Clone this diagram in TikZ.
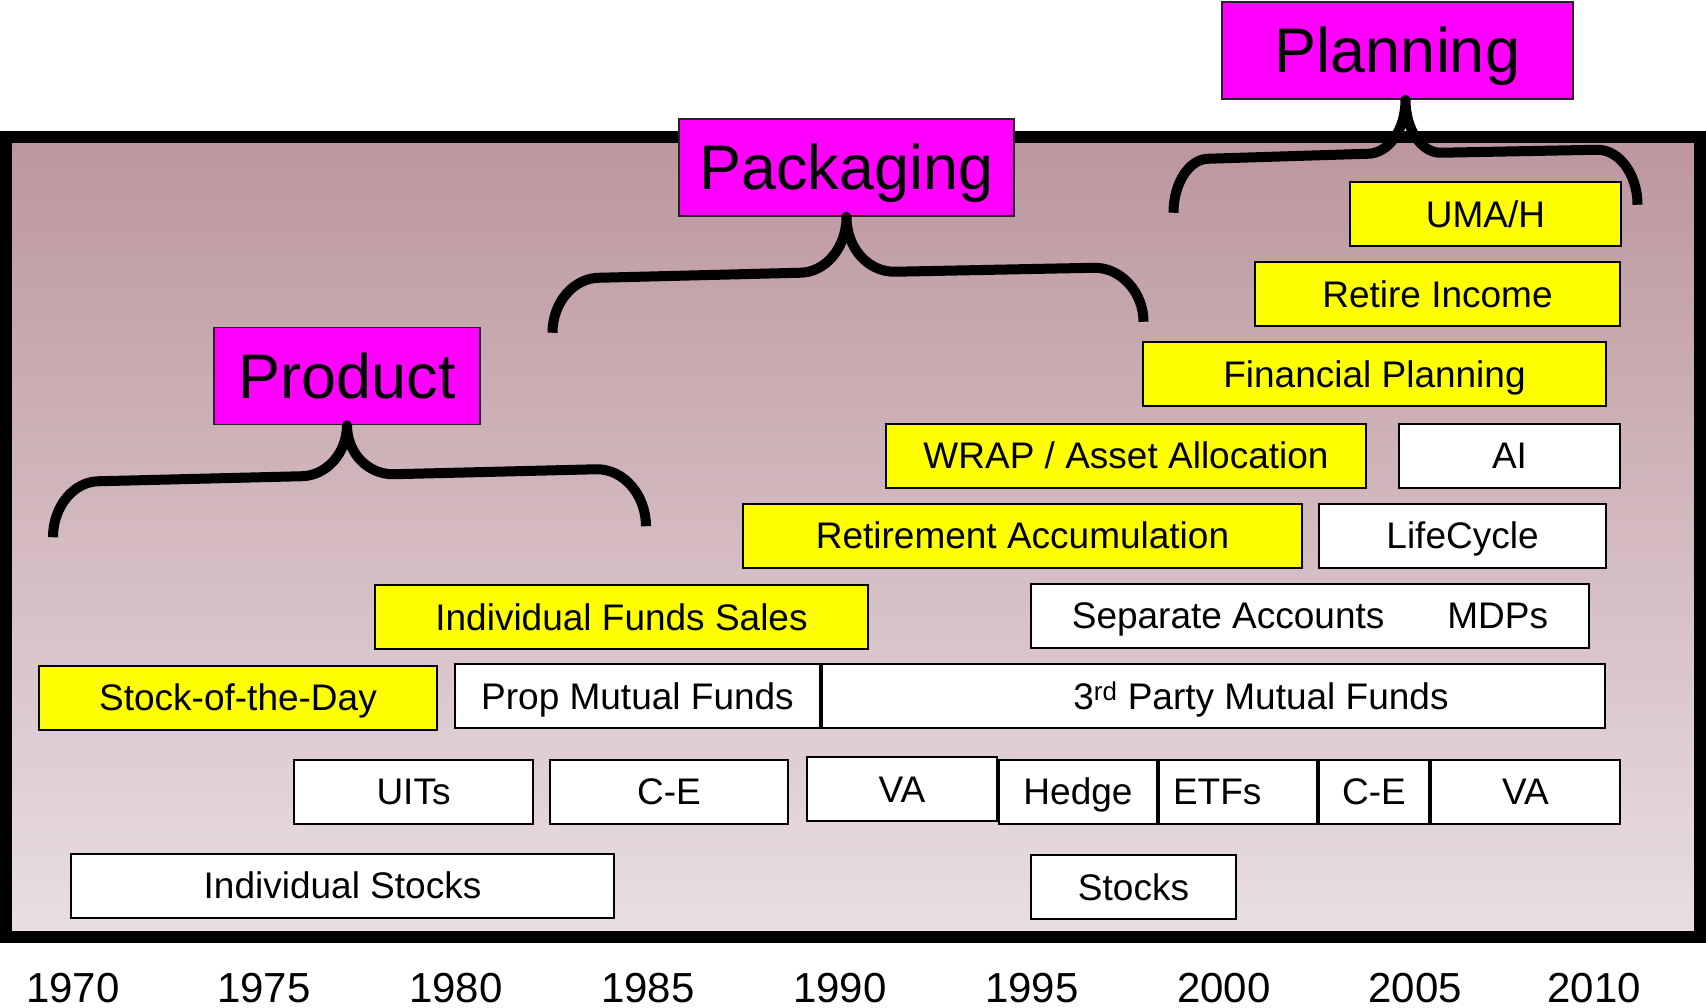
\documentclass[tikz,border=0pt]{standalone}
\usepackage{fontspec}
\setmainfont{Liberation Sans}
\definecolor{frametop}{RGB}{188,150,158}
\definecolor{framebot}{RGB}{233,223,226}
\definecolor{erapink}{RGB}{255,0,255}
\definecolor{hotyellow}{RGB}{255,255,0}

\begin{document}
\begin{tikzpicture}
  [x=1pt,y=-1pt,every node/.style={inner sep=0pt},
   era/.style={draw=black!85,line width=1.5pt,fill=erapink,minimum height=97pt,
     font=\fontsize{63}{70}\selectfont,text height=45pt,text depth=0pt},
   item/.style={draw,line width=2pt,fill=white,minimum height=64pt,
     font=\fontsize{37}{40}\selectfont,text height=26.5pt,text depth=0pt},
   hot/.style={item,fill=hotyellow},
   curly/.style={line width=10pt,line join=round}]
  \useasboundingbox (0,0) rectangle (1706,1008);
  % time line frame
  \draw[line width=12pt,top color=frametop,bottom color=framebot] (6,137) rectangle (1700,937);

  \node[item,minimum width=543pt] (indst) at (342.5,885.5) {Individual Stocks};
  \node[item,minimum width=205pt] (stocks) at (1133.5,887) {Stocks};

  \node[item,minimum width=239pt] (uits) at (413.5,791.5) {UITs};
  \node[item,minimum width=238pt] (ce1) at (669,791.5) {C-E};
  \node[item,minimum width=190pt] (va1) at (902,789) {VA};
  \node[item,minimum width=158pt] (hedge) at (1078,791.5) {Hedge};
  \node[item,minimum width=158pt,text width=130pt,align=left] (etfs) at (1238,791.5) {ETFs};
  \node[item,minimum width=110pt] (ce2) at (1374,791.5) {C-E};
  \node[item,minimum width=189pt] (va2) at (1525.5,791.5) {VA};

  \node[hot,minimum width=398pt] (sotd) at (238,697.5) {Stock-of-the-Day};
  \node[item,minimum width=365pt] (propmf) at (637.5,696) {Prop Mutual Funds};
  \node[item,minimum width=783pt] (thirdmf) at (1213.5,696) {\hspace*{95pt}3\textsuperscript{rd} Party Mutual Funds};

  \node[hot,minimum width=493pt] (indfs) at (621.5,617) {Individual Funds Sales};
  \node[item,minimum width=558pt] (sepacc) at (1310,615.5) {Separate Accounts\hspace{63pt}MDPs};

  \node[hot,minimum width=559pt] (retacc) at (1022.5,535.5) {Retirement Accumulation};
  \node[item,minimum width=287pt] (life) at (1462.5,535.5) {LifeCycle};
  \node[hot,minimum width=480pt] (wrap) at (1126,455.5) {WRAP / Asset Allocation};
  \node[item,minimum width=221pt] (ai) at (1509.5,455.5) {AI};
  \node[hot,minimum width=463pt] (finpl) at (1374.5,374) {Financial Planning};
  \node[hot,minimum width=365pt] (retinc) at (1437.5,294.5) {Retire Income};
  \node[hot,minimum width=271pt] (umah) at (1485.5,214) {UMA/H};

  \node[era,minimum width=266pt] (prod) at (347,376) {Product};
  \node[era,minimum width=335pt] (pack) at (846.5,167.5) {Packaging};
  \node[era,minimum width=351pt] (plan) at (1397.5,50.5) {Planning};

  % braces under the three eras
  \draw[curly,shift={(prod.south)}] (-294,112) .. controls (-294,81) and (-273,56) .. (-248,56)
    -- (-46,51) .. controls (-21,51) and (0,28) .. (0,0)
    .. controls (0,28) and (21,49) .. (46,49) -- (250,44)
    .. controls (277,44) and (299,70) .. (299,101);
  \draw[curly,shift={(pack.south)}] (-294,116) .. controls (-294,86) and (-273,61) .. (-247,61)
    -- (-47,56) .. controls (-21,56) and (0,31) .. (0,0)
    .. controls (0,31) and (21,55) .. (48,55) -- (248,51)
    .. controls (275,51) and (297,76) .. (297,105);
  \draw[curly,shift={([xshift=8pt]plan.south)}] (-232,113) .. controls (-232,83) and (-216,59) .. (-197,59)
    -- (-38,54) .. controls (-17,54) and (0,30) .. (0,0)
    .. controls (0,30) and (16,53) .. (35,53) -- (192,50)
    .. controls (214,50) and (232,75) .. (232,105);

  \foreach \yr/\xx in {1970/73,1975/264,1980/456,1985/648,1990/840,1995/1032,2000/1224,2005/1415,2010/1594}
    \node[font=\fontsize{42}{46}\selectfont,anchor=base] (y\yr) at (\xx,1002) {\yr};
\end{tikzpicture}
\end{document}
